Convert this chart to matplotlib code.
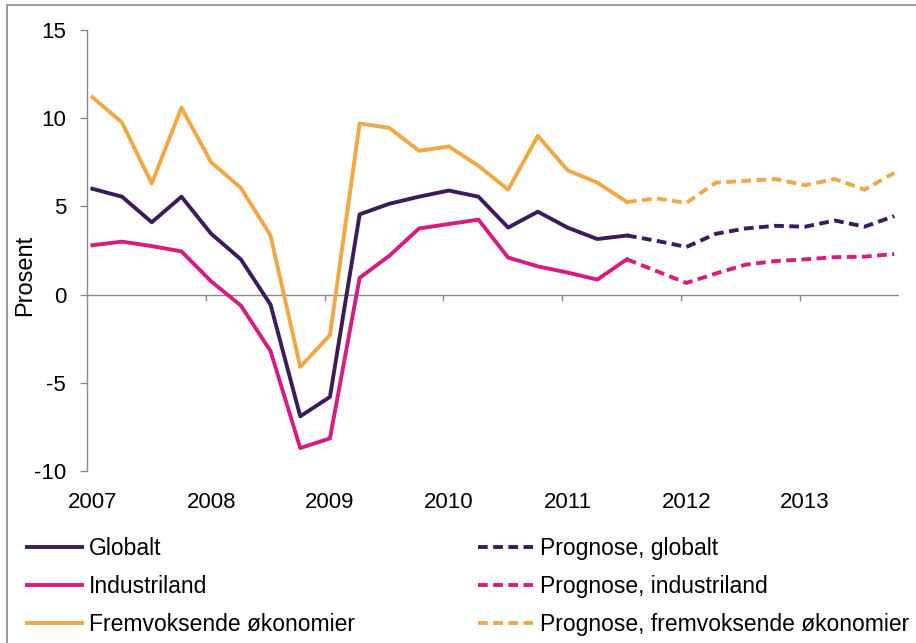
import matplotlib
matplotlib.use("Agg")
import matplotlib.pyplot as plt
from matplotlib.patches import Rectangle
from matplotlib.lines import Line2D

plt.rcParams['font.family'] = ['Liberation Sans', 'DejaVu Sans']
plt.rcParams['axes.unicode_minus'] = False

# Quarterly GDP growth, 2007Q1-2013Q4 (percent)
years = [2007, 2008, 2009, 2010, 2011, 2012, 2013]
quarters = [f"{y}Q{q}" for y in years for q in range(1, 5)]

# Outcome series, 2007Q1-2011Q3
globalt = [6.0, 5.55, 4.1, 5.55, 3.45, 2.0, -0.57, -6.9, -5.8, 4.55,
           5.15, 5.55, 5.9, 5.55, 3.8, 4.7, 3.8, 3.15, 3.35]
industriland = [2.8, 3.0, 2.75, 2.45, 0.75, -0.62, -3.2, -8.7, -8.15, 0.95,
                2.2, 3.75, 4.0, 4.25, 2.1, 1.6, 1.25, 0.85, 2.0]
fremvoksende = [11.2, 9.75, 6.3, 10.6, 7.5, 6.05, 3.35, -4.1, -2.3, 9.7,
                9.45, 8.15, 8.4, 7.3, 5.95, 9.0, 7.05, 6.35, 5.25]

# Forecasts, 2011Q3-2013Q4 (starting from the last outcome)
prognose_globalt = [3.35, 3.05, 2.7, 3.45, 3.75, 3.9, 3.85, 4.2, 3.85, 4.45]
prognose_industriland = [2.0, 1.33, 0.66, 1.2, 1.7, 1.9, 2.0, 2.12, 2.15, 2.3]
prognose_fremvoksende = [5.25, 5.45, 5.2, 6.35, 6.45, 6.55, 6.2, 6.55, 5.95, 6.9]

labels = ["Globalt", "Industriland", "Fremvoksende økonomier"]
prognose_labels = ["Prognose, globalt", "Prognose, industriland",
                   "Prognose, fremvoksende økonomier"]
colors = ["#3b1b5c", "#d71b80", "#f0a744"]

# position of each quarter on a time axis (years)
x = [int(q[:4]) + (int(q[-1]) - 1) / 4 + 0.045 for q in quarters]
n_hist = len(globalt)

W, H = 916, 643
fig = plt.figure(figsize=(W / 100, H / 100), dpi=100)
ax = fig.add_axes([87 / W, 1 - 471 / H, (899 - 87) / W, (471 - 30) / H])

lw = 2.8
dash = (0, (2.5, 1.4))
hist = [globalt, industriland, fremvoksende]
prog = [prognose_globalt, prognose_industriland, prognose_fremvoksende]
for vals, c in zip(hist, colors):
    ax.plot(x[:n_hist], vals, color=c, lw=lw, solid_joinstyle='round')
for vals, c in zip(prog, colors):
    ax.plot(x[n_hist - 1:], vals, color=c, lw=lw, ls=dash, dash_capstyle='butt')

ax.set_xlim(2007, 2013.835)
ax.set_ylim(-10, 15)

grey = "#8a8a8a"
for s in ("top", "right", "bottom"):
    ax.spines[s].set_visible(False)
ax.spines["left"].set_color(grey)
ax.spines["left"].set_linewidth(1.0)

ax.axhline(0, color=grey, lw=1.0, zorder=1)
ax.vlines(years[1:], -0.34, 0, color=grey, lw=1.0, zorder=1)

ax.set_yticks([-10, -5, 0, 5, 10, 15])
ax.tick_params(axis="y", direction="out", length=5, width=1, color=grey,
               labelsize=16, pad=10)
ax.set_xticks([y + 0.045 for y in years])
ax.set_xticklabels([str(y) for y in years])
ax.tick_params(axis="x", length=0, labelsize=16, pad=15)

fig.text(25 / W, 1 - 275 / H, "Prosent", rotation=90, ha="center",
         va="center", fontsize=17)

handles_hist = [Line2D([], [], color=c, lw=lw) for c in colors]
handles_prog = [Line2D([], [], color=c, lw=lw, ls=dash, dash_capstyle='butt')
                for c in colors]
common = dict(frameon=False, fontsize=16.5, handlelength=2.4, handletextpad=0.3,
              labelspacing=0.66, borderpad=0, borderaxespad=0, loc="upper left")
leg1 = fig.legend(handles_hist, labels, bbox_to_anchor=(27 / W, 1 - 537 / H),
                  **common)
leg2 = fig.legend(handles_prog, prognose_labels,
                  bbox_to_anchor=(478 / W, 1 - 537 / H), **common)

fig.patches.append(Rectangle((7 / W, -0.05), 1.0, 1 - 5 / H + 0.05,
                             transform=fig.transFigure, fill=False,
                             ec=grey, lw=1.2))

fig.savefig("out.png", dpi=100)
